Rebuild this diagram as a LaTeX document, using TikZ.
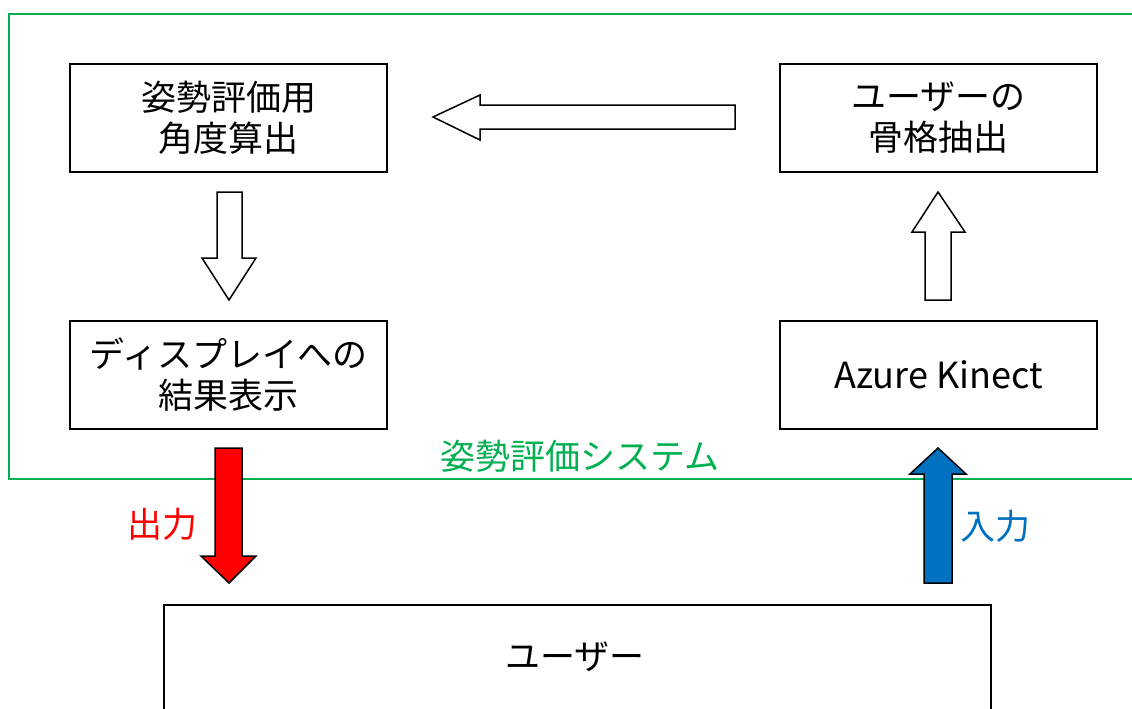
\documentclass[tikz,border=0pt]{standalone}
\usepackage{fontspec}
\setmainfont{Noto Sans CJK JP}
\definecolor{sysgreen}{HTML}{00B050}
\definecolor{inblue}{HTML}{0070C0}
\begin{document}
\begin{tikzpicture}[x=1pt,y=-1pt,
  procbox/.style={draw=black,line width=2pt,minimum width=317pt,minimum height=108pt,align=center,inner sep=0pt,
    font=\fontsize{35}{41}\selectfont},
  hollow/.style={draw=black,line width=1.5pt,fill=white,line join=miter},
  lbl/.style={font=\fontsize{35}{40}\selectfont,inner sep=0pt}]
\useasboundingbox (0,0) rectangle (1132,709);
\begin{scope}
\clip (0,0) rectangle (1132,709);
% system frame
\draw[sysgreen,line width=1.6pt] (9,14) rectangle (1150,479);
% user box
\node[draw=black,line width=2pt,minimum width=827pt,minimum height=140pt,inner sep=0pt,anchor=north west] (user) at (163,604) {};
\end{scope}
\node[lbl] (userlbl) at (575,657) {ユーザー};

\node[procbox] (angle) at (228.5,118) {姿勢評価用\\角度算出};
\node[procbox] (skel) at (938.5,118) {ユーザーの\\骨格抽出};
\node[procbox] (disp) at (228.5,375) {ディスプレイへの\\結果表示};
\node[procbox,font=\fontsize{36}{41}\selectfont] (kinect) at (938.5,375) {Azure Kinect};

% hollow arrows
\draw[hollow] (735,105) -- (480,105) -- (480,95) -- (433,117) -- (480,140) -- (480,129) -- (735,129) -- cycle;
\draw[hollow] (217,192) -- (242,192) -- (242,258) -- (256,258) -- (229,300) -- (202,258) -- (217,258) -- cycle;
\draw[hollow] (925,300) -- (951,300) -- (951,232) -- (965,232) -- (938,192) -- (912,232) -- (925,232) -- cycle;

% output / input arrows
\draw[draw=black,line width=1.5pt,fill=red] (215,448) -- (242,448) -- (242,556) -- (256,556) -- (229,583) -- (201,556) -- (215,556) -- cycle;
\draw[draw=black,line width=1.5pt,fill=inblue] (924,583) -- (952,583) -- (952,474) -- (966,474) -- (938,448) -- (910,474) -- (924,474) -- cycle;

\node[lbl,text=red] (outlbl) at (162,524) {出力};
\node[lbl,text=inblue] (inlbl) at (995,526) {入力};
\node[lbl,text=sysgreen] (syslbl) at (580,456) {姿勢評価システム};
\end{tikzpicture}
\end{document}
